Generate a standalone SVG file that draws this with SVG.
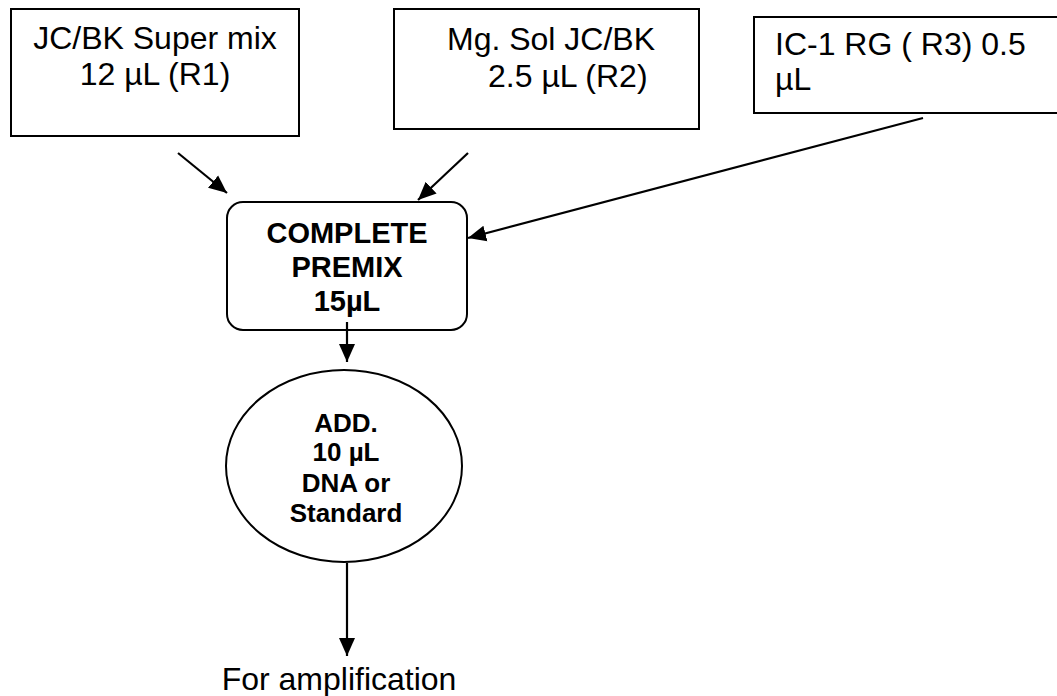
<svg xmlns="http://www.w3.org/2000/svg" width="1057" height="696" viewBox="0 0 1057 696">
  <style>
    .box { fill: #ffffff; stroke: #000000; stroke-width: 2; }
    .lbl { font-family: "Liberation Sans", Arial, sans-serif; font-size: 32px; fill: #000000; }
    .bold { font-family: "Liberation Sans", Arial, sans-serif; font-weight: bold; fill: #000000; text-anchor: middle; }
    .wire { stroke: #000000; stroke-width: 2.2; fill: none; marker-end: url(#head); }
  </style>
  <defs>
    <marker id="head" markerUnits="userSpaceOnUse" markerWidth="20" markerHeight="18" refX="18" refY="9" orient="auto">
      <path d="M0,1 L18,9 L0,17 Z" fill="#000000"/>
    </marker>
  </defs>
  <rect width="1057" height="696" fill="#ffffff"/>

  <g id="superMix">
    <rect class="box" x="11" y="9" width="288" height="127"/>
    <text class="lbl" x="155" y="49" text-anchor="middle">JC/BK Super mix</text>
    <text class="lbl" x="155" y="85" text-anchor="middle">12 µL (R1)</text>
  </g>

  <g id="mgSol">
    <rect class="box" x="394" y="9" width="305" height="120"/>
    <text class="lbl" x="551" y="50" text-anchor="middle">Mg. Sol JC/BK</text>
    <text class="lbl" x="488" y="87">2.5 µL (R2)</text>
  </g>

  <g id="ic1">
    <rect class="box" x="754" y="17" width="330" height="96"/>
    <text class="lbl" x="775" y="55">IC-1 RG ( R3) 0.5</text>
    <text class="lbl" x="775" y="90">µL</text>
  </g>

  <g id="premix">
    <rect class="box" x="227" y="202" width="240" height="128" rx="16" ry="16"/>
    <text class="bold" x="347" y="243" font-size="29">COMPLETE</text>
    <text class="bold" x="347" y="277" font-size="29">PREMIX</text>
    <text class="bold" x="347" y="311" font-size="29">15µL</text>
  </g>

  <g id="addDna">
    <ellipse class="box" cx="344" cy="466" rx="118" ry="96" stroke-width="1.6"/>
    <text class="bold" x="346" y="432" font-size="26">ADD.</text>
    <text class="bold" x="346" y="461" font-size="26">10 µL</text>
    <text class="bold" x="346" y="492" font-size="26">DNA or</text>
    <text class="bold" x="346" y="522" font-size="26">Standard</text>
  </g>

  <g id="amplification">
    <text class="lbl" x="339" y="690" text-anchor="middle">For amplification</text>
  </g>

  <g id="connectors">
    <line class="wire" x1="178" y1="153" x2="227" y2="193"/>
    <line class="wire" x1="468" y1="153" x2="418" y2="200"/>
    <line class="wire" x1="923" y1="118" x2="468" y2="238"/>
    <line class="wire" x1="347" y1="322" x2="347" y2="362"/>
    <line class="wire" x1="347" y1="563" x2="347" y2="656"/>
  </g>
</svg>
